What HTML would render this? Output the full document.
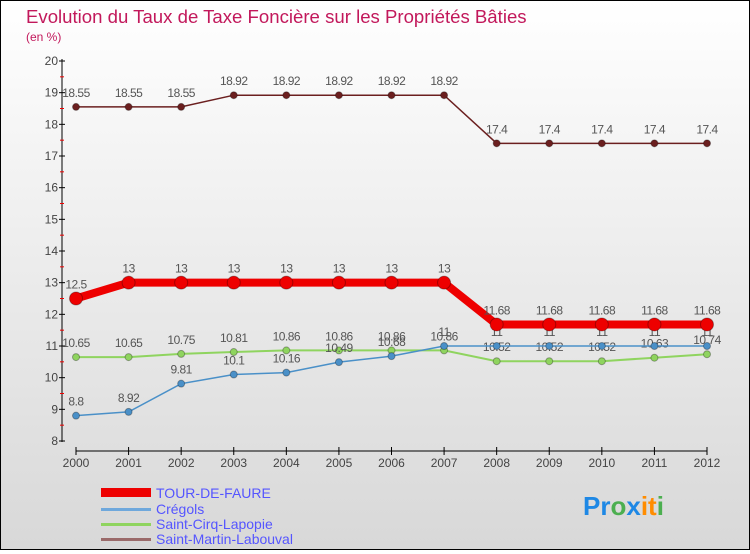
<!DOCTYPE html>
<html><head><meta charset="utf-8"><style>
body{margin:0}
#c{width:748px;height:548px;border:1px solid #000;background:linear-gradient(#fff,#f3f3f3 30%,#d8d8d8);position:relative;font-family:"Liberation Sans",sans-serif}
text{font-family:"Liberation Sans",sans-serif}
</style></head><body>
<div id="c">
<svg id="s" width="748" height="548">
<text x="25" y="22" font-size="18.6" fill="#c2185b">Evolution du Taux de Taxe Foncière sur les Propriétés Bâties</text>
<text x="25" y="40" font-size="12" fill="#c2185b">(en %)</text>
<g id="g"></g>
<g>
<rect x="100" y="487" width="50" height="9" fill="#e00"/>
<text x="155" y="497" font-size="14" fill="#55f">TOUR-DE-FAURE</text>
<rect x="100" y="507" width="50" height="3" fill="#6fa8dc"/>
<text x="155" y="513" font-size="14" fill="#55f">Crégols</text>
<rect x="100" y="522" width="50" height="3" fill="#8fd45f"/>
<text x="155" y="528" font-size="14" fill="#55f">Saint-Cirq-Lapopie</text>
<rect x="100" y="537" width="50" height="3" fill="#9a6a6a"/>
<text x="155" y="543" font-size="14" fill="#55f">Saint-Martin-Labouval</text>
</g>
<text x="582" y="514" font-size="26" font-weight="bold"><tspan fill="#1e88e5">Pr</tspan><tspan fill="#4caf50">o</tspan><tspan fill="#1e88e5">x</tspan><tspan fill="#ff8c00">it</tspan><tspan fill="#4caf50">i</tspan></text>
</svg></div>
<script>
const years=[2000,2001,2002,2003,2004,2005,2006,2007,2008,2009,2010,2011,2012];
const yTicks=[8,9,10,11,12,13,14,15,16,17,18,19,20];
const tour=[12.5,13,13,13,13,13,13,13,11.68,11.68,11.68,11.68,11.68];
const cregols=[8.8,8.92,9.81,10.1,10.16,10.49,10.68,11,11,11,11,11,11];
const cirq=[10.65,10.65,10.75,10.81,10.86,10.86,10.86,10.86,10.52,10.52,10.52,10.63,10.74];
const martin=[18.55,18.55,18.55,18.92,18.92,18.92,18.92,18.92,17.4,17.4,17.4,17.4,17.4];
const NS="http://www.w3.org/2000/svg",g=document.getElementById('g');
const X=i=>75+i*(631/(years.length-1)), Y=v=>60+(20-v)*(380/12);
function mk(t,a){const e=document.createElementNS(NS,t);for(const k in a)e.setAttribute(k,a[k]);g.appendChild(e);return e;}
let e=mk('line',{x1:61,y1:58,x2:61,y2:441,stroke:'#000'});


e=mk('line',{x1:75,y1:450,x2:706,y2:450,stroke:'#000'});


yTicks.forEach(v=>{let t=mk('line',{x1:58,x2:64,y1:Y(v),y2:Y(v),stroke:'#000'});


if(v<20){let m=mk('line',{x1:59,x2:63,y1:Y(v+0.5),y2:Y(v+0.5),stroke:'#e00'});

}
let l=mk('text',{x:57,y:Y(v)+4,'font-size':12,fill:'#444','text-anchor':'end'});l.textContent=v;

});
years.forEach((y,i)=>{let t=mk('line',{x1:X(i),x2:X(i),y1:446,y2:454,stroke:'#000'});


let l=mk('text',{x:X(i),y:466,'font-size':12,fill:'#444','text-anchor':'middle'});l.textContent=y;

});
function series(d,col,w,r,name){
let p=mk('polyline',{points:d.map((v,i)=>X(i)+','+Y(v)).join(' '),fill:'none',stroke:col,'stroke-width':w});


d.forEach((v,i)=>{let c=mk('circle',{cx:X(i),cy:Y(v),r:r,fill:col,stroke:'rgba(0,0,0,0.3)'});


let l=mk('text',{x:X(i),y:Y(v)-10,'font-size':12,fill:'#555','text-anchor':'middle','letter-spacing':'-0.5'});l.textContent=v;

});}
series(martin,'#6b1f1f',1.5,3.5,'martin');
series(cirq,'#8fd45f',2,3.5,'cirq');
series(cregols,'#4a90c8',1.5,3.5,'cregols');
series(tour,'#ee0000',8,6.5,'tour');
</script>
</body></html>
